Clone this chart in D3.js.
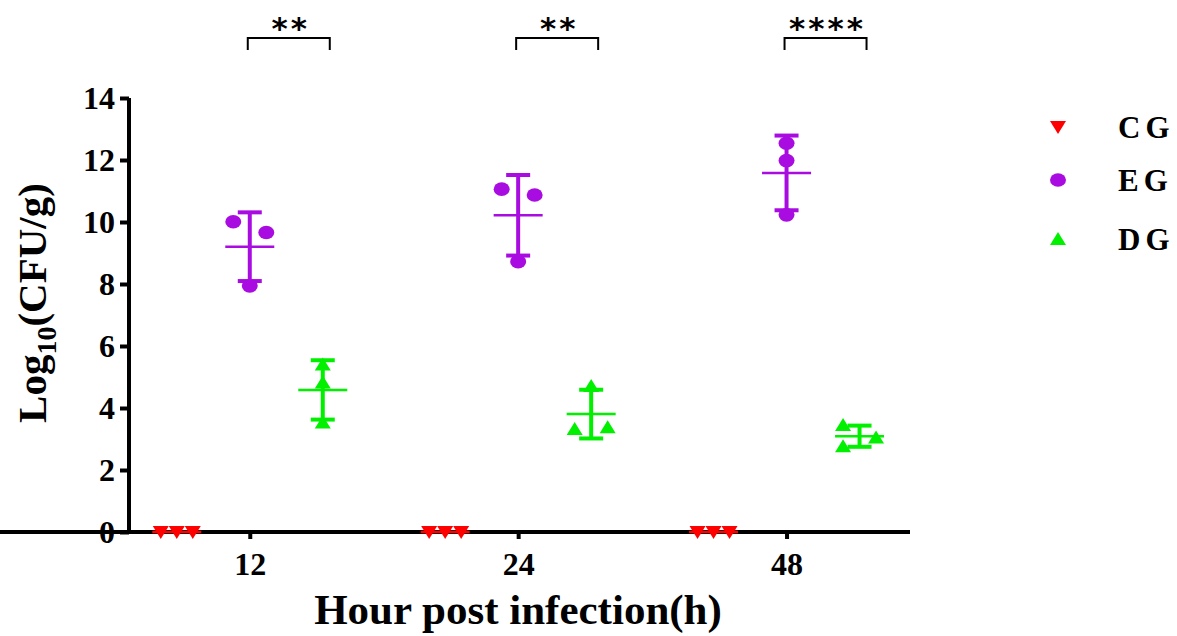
<!DOCTYPE html>
<html>
<head>
<meta charset="utf-8">
<script src="https://cdn.jsdelivr.net/npm/d3@7"></script>
<style>
  body { margin: 0; background: #fff; }
  text { font-family: "Liberation Serif", "Times New Roman", serif; font-weight: bold; }
</style>
</head>
<body>
<svg></svg>
<script>
const size = {w: 1177, h: 636};
const svg = d3.select('svg').attr('width', size.w).attr('height', size.h);

// ---- data ----
const hours = ['12', '24', '48'];
const groups = ['CG', 'EG', 'DG'];
const colors = ['#ff0000', '#a90ce0', '#00f000'];
// replicate values (log10 CFU/g) per group, per time point
const cgValues = [[0, 0, 0], [0, 0, 0], [0, 0, 0]];
const egValues = [[10.01, 9.66, 7.94], [11.06, 10.87, 8.72], [12.54, 11.98, 10.23]];
const dgValues = [[5.40, 4.82, 3.53], [4.71, 3.32, 3.38], [3.45, 3.05, 2.77]];
const sigLabels = ['**', '**', '****'];
const yTicks = [0, 2, 4, 6, 8, 10, 12, 14];

const allValues = [cgValues, egValues, dgValues];

// ---- scales ----
const x = d3.scaleLinear().domain([-0.45, 2.46]).range([129, 910]);
const y = d3.scaleLinear().domain([0, 14]).range([532, 98]);
const groupShift = [-0.272, 0, 0.272];

// ---- axes ----
const yAxis = svg.append('g')
    .attr('transform', 'translate(129,0)')
    .call(d3.axisLeft(y).tickValues(yTicks).tickSize(9).tickPadding(5));
const xAxis = svg.append('g')
    .attr('transform', 'translate(0,532)')
    .call(d3.axisBottom(x).tickValues([0, 1, 2]).tickFormat(i => hours[i]).tickSize(7).tickPadding(9));

[yAxis, xAxis].forEach(g => {
    g.select('.domain').attr('stroke', '#000').attr('stroke-width', 4);
    g.selectAll('.tick line').attr('stroke', '#000').attr('stroke-width', 4);
    g.selectAll('.tick text')
        .attr('fill', '#000')
        .style('font-family', '"Liberation Serif", serif')
        .style('font-weight', 'bold')
        .style('font-size', '32px');
});
yAxis.selectAll('.tick text').attr('dy', '0.34em');
xAxis.selectAll('.tick text').attr('dy', '0.85em');
// square off the axis path ends
yAxis.select('.domain').attr('d', `M0,${y(14)}V${y(0) + 2}`);
xAxis.select('.domain').attr('d', `M-2,0H910`);

// ---- markers ----
const triDown = 'M-8,-6L8,-6L0,7Z';
const triUp = 'M-8,6L8,6L0,-7Z';

function drawMarker(sel, g) {
    if (g === 0) sel.append('path').attr('d', triDown);
    else if (g === 1) sel.append('ellipse').attr('rx', 8).attr('ry', 6.8);
    else sel.append('path').attr('d', triUp);
}

// spread replicates that would overlap vertically
function dodge(vals) {
    const offs = vals.map(() => 0);
    const idx = vals.map((v, i) => i).sort((a, b) => vals[b] - vals[a]);
    let clusters = [], cur = [idx[0]];
    for (let k = 1; k < idx.length; k++) {
        const gap = Math.abs(y(vals[idx[k]]) - y(vals[idx[k - 1]]));
        if (gap < 14) cur.push(idx[k]);
        else { clusters.push(cur); cur = [idx[k]]; }
    }
    clusters.push(cur);
    clusters.forEach(c => {
        if (c.length < 2) return;
        const spread = Math.abs(y(vals[c[0]]) - y(vals[c[c.length - 1]]));
        const members = c.slice().sort((a, b) => a - b);
        if (spread < 1) {
            members.forEach((m, j) => offs[m] = (j - (members.length - 1) / 2) * 16);
        } else {
            members.forEach((m, j) => offs[m] = (j % 2 === 0 ? -16.5 : 16.5));
        }
    });
    return offs;
}

const marks = svg.append('g');
allValues.forEach((series, g) => {
    series.forEach((vals, i) => {
        const cx = x(i + groupShift[g]);
        const mean = d3.mean(vals);
        const sd = d3.deviation(vals);
        const col = colors[g];
        const grp = marks.append('g').attr('fill', col).attr('stroke', col);

        if (sd > 0) {
            grp.append('line').attr('x1', cx).attr('x2', cx)
                .attr('y1', y(mean + sd)).attr('y2', y(mean - sd)).attr('stroke-width', 4);
            [mean + sd, mean - sd].forEach(v => {
                grp.append('line').attr('x1', cx - 12).attr('x2', cx + 12)
                    .attr('y1', y(v)).attr('y2', y(v)).attr('stroke-width', 4);
            });
        }
        const offs = dodge(vals);
        vals.forEach((v, k) => {
            const m = grp.append('g').attr('stroke', 'none')
                .attr('transform', `translate(${cx + offs[k]},${y(v)})`);
            drawMarker(m, g);
        });
        grp.append('line').attr('x1', cx - 24.5).attr('x2', cx + 24.5)
            .attr('y1', y(mean)).attr('y2', y(mean)).attr('stroke-width', 2.5);
    });
});

// ---- significance brackets ----
const sig = svg.append('g');
sigLabels.forEach((lab, i) => {
    const x1 = x(i) - 2, x2 = x(i + groupShift[2]) + 7;
    sig.append('path')
        .attr('d', `M${x1},50V38H${x2}V50`)
        .attr('fill', 'none').attr('stroke', '#000').attr('stroke-width', 2);
    sig.append('text')
        .attr('x', (x1 + x2) / 2 + 2).attr('y', 39)
        .attr('text-anchor', 'middle')
        .style('font-family', '"DejaVu Sans", sans-serif')
        .style('font-weight', 'bold')
        .style('font-size', '31px')
        .style('letter-spacing', '3px')
        .text(lab);
});

// ---- legend ----
const legend = svg.append('g');
groups.forEach((name, g) => {
    const ly = [127, 180, 239][g];
    const m = legend.append('g').attr('fill', colors[g])
        .attr('transform', `translate(1058,${ly})`);
    drawMarker(m, g);
    legend.append('text')
        .attr('x', 1118).attr('y', ly).attr('dy', '0.35em')
        .style('font-size', '31px')
        .style('letter-spacing', '5px')
        .text(name);
});

// ---- axis titles ----
svg.append('text')
    .attr('x', 518).attr('y', 624)
    .attr('text-anchor', 'middle')
    .style('font-size', '43px')
    .text('Hour post infection(h)');

const yt = svg.append('text')
    .attr('transform', 'translate(46,303) rotate(-90)')
    .attr('text-anchor', 'middle')
    .style('font-size', '41px');
yt.append('tspan').text('Log');
yt.append('tspan').attr('dy', 10).style('font-size', '28px').text('10');
yt.append('tspan').attr('dy', -10).text('(CFU/g)');
</script>
</body>
</html>
